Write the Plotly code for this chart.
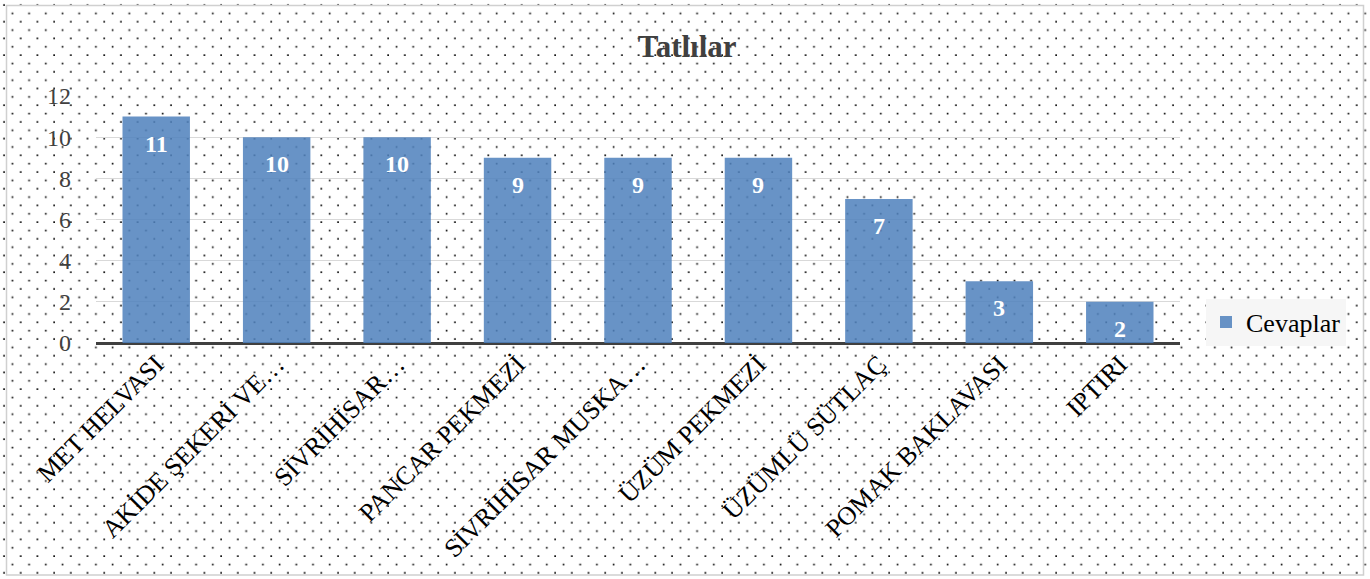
import base64
import plotly.graph_objects as go

categories = ["MET HELVASI", "AKİDE ŞEKERİ VE…", "SİVRİHİSAR…", "PANCAR PEKMEZİ",
              "SİVRİHİSAR MUSKA…", "ÜZÜM PEKMEZİ", "ÜZÜMLÜ SÜTLAÇ", "POMAK BAKLAVASI", "IPTIRI"]
values = [11, 10, 10, 9, 9, 9, 7, 3, 2]
series_name = "Cevaplar"
title_text = "Tatlılar"

W, H = 1370, 579
L, R, T, B = 96, 190, 96, 236
pw, ph = W - L - R, H - T - B

svg = f'''<svg xmlns="http://www.w3.org/2000/svg" width="{W}" height="{H}">
<defs><pattern id="p" x="0" y="0" width="16.7" height="16.7" patternUnits="userSpaceOnUse">
<rect x="3.2" y="4.2" width="1.7" height="1.7" fill="#111"/>
<rect x="11.55" y="12.55" width="1.7" height="1.7" fill="#111"/>
</pattern></defs>
<rect width="{W}" height="{H}" fill="#ffffff"/>
<rect width="{W}" height="{H}" fill="url(#p)"/>
</svg>'''
src = "data:image/svg+xml;base64," + base64.b64encode(svg.encode()).decode()

def px_x(p):
    return (p - L) / pw

def px_y(p):
    return (H - B - p) / ph

fig = go.Figure()
fig.add_trace(go.Bar(
    x=categories, y=values, name=series_name,
    marker=dict(color="rgba(79,129,189,0.86)", line=dict(width=0)),
    width=0.56, showlegend=True,
))

annotations = [
    dict(x=c, y=v, text=f"<b>{v}</b>", showarrow=False, yshift=-27,
         font=dict(family="Liberation Serif", size=24, color="white"), xref="x", yref="y")
    for c, v in zip(categories, values)
]

fig.update_layout(
    width=W, height=H,
    margin=dict(l=L, r=R, t=T, b=B, pad=0),
    paper_bgcolor="rgba(0,0,0,0)", plot_bgcolor="rgba(0,0,0,0)",
    font=dict(family="Liberation Serif", color="#404040"),
    title=dict(text=f"<b>{title_text}</b>", x=0.5016, xanchor="center", y=1 - 46 / H, yanchor="middle",
               font=dict(family="Liberation Serif", size=31, color="#404040")),
    bargap=0.44,
    xaxis=dict(tickangle=-45, tickfont=dict(family="Liberation Serif", size=26, color="#000000"),
               showgrid=False, showline=False, ticks="", zeroline=False),
    yaxis=dict(range=[0, 12], dtick=2, tickfont=dict(family="Liberation Serif", size=24, color="#404040"),
               showgrid=True, gridcolor="#d9d9d9", gridwidth=1.3, zeroline=True, zerolinecolor="#404040",
               zerolinewidth=3, showline=False, ticks="", ticklabelstandoff=24),
    legend=dict(x=px_x(1206), y=px_y(322), xanchor="left", yanchor="middle",
                bgcolor="#f6f6f6", font=dict(family="Liberation Serif", size=26, color="#000000"),
                itemwidth=30, tracegroupgap=0),
    annotations=annotations,
    images=[dict(source=src, xref="paper", yref="paper", x=px_x(0), y=px_y(0), sizex=W / pw, sizey=H / ph,
                 xanchor="left", yanchor="top", sizing="stretch", layer="below")],
    shapes=[dict(type="rect", xref="paper", yref="paper", x0=px_x(6.5), x1=px_x(1363.5), y0=px_y(575),
                 y1=px_y(5.5), line=dict(color="#d0d0d0", width=1.5), fillcolor="rgba(0,0,0,0)", layer="below")],
)

fig.write_html("out.html")
